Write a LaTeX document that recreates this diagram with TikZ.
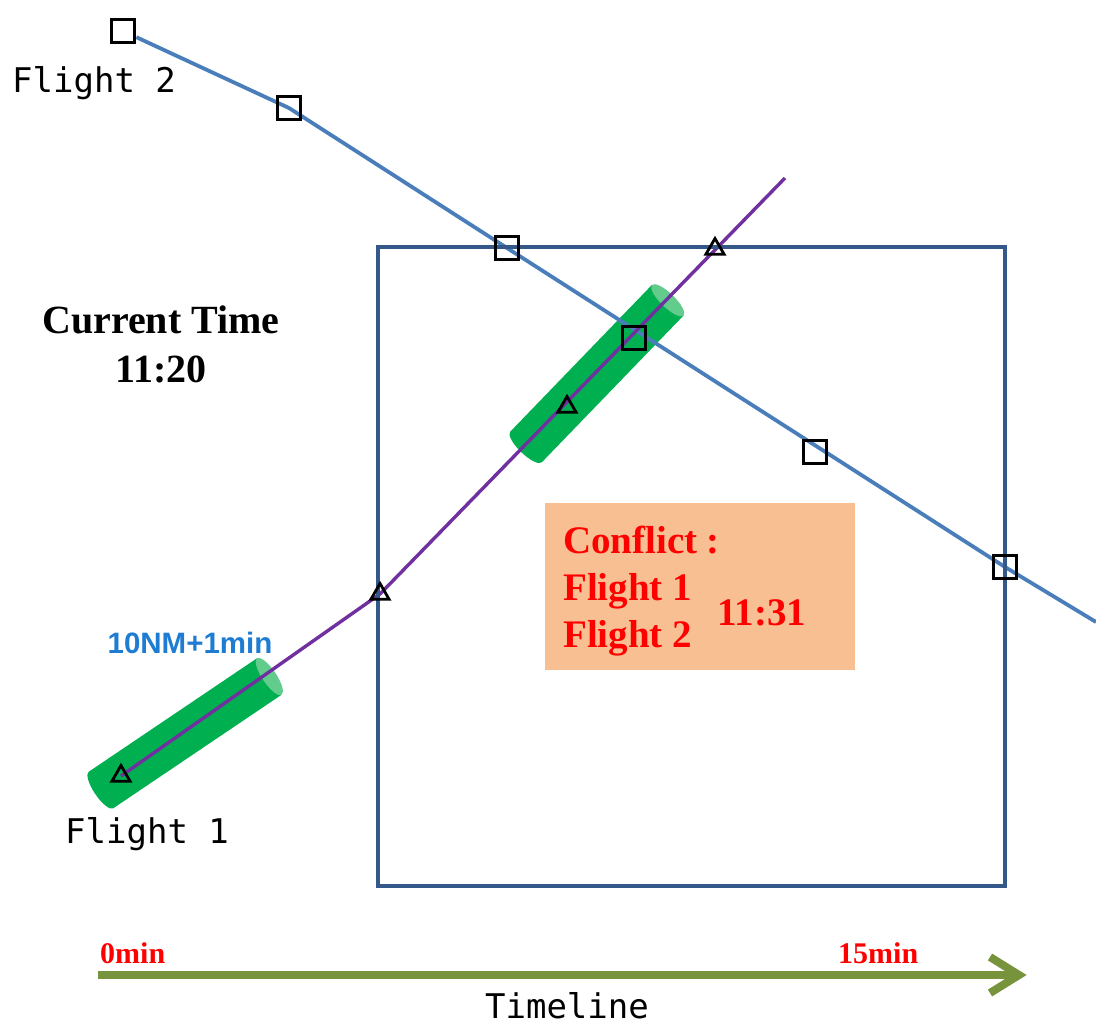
\documentclass[tikz,border=0pt]{standalone}
\usepackage{fontspec}
\setmainfont{Liberation Serif}
\newfontfamily\labelmono{DejaVu Sans Mono}
\newfontfamily\labelsans{Liberation Sans}
\usetikzlibrary{shapes.geometric}
\pgfdeclarelayer{background}
\pgfsetlayers{background,main}

\definecolor{routeblue}{RGB}{74,126,187}
\definecolor{routepurple}{RGB}{112,48,160}
\definecolor{zoneblue}{RGB}{52,88,138}
\definecolor{tubegreen}{RGB}{0,176,80}
\definecolor{tubecap}{RGB}{98,204,140}
\definecolor{alertfill}{RGB}{248,192,146}
\definecolor{alertred}{RGB}{255,0,0}
\definecolor{labelblue}{RGB}{30,125,210}
\definecolor{timelinegreen}{RGB}{119,147,60}

\tikzset{
  waypoint/.style={draw=black, line width=3.8pt, rectangle, minimum size=23pt, inner sep=0pt},
  fixmark/.style={draw=black, line width=2.8pt, regular polygon, regular polygon sides=3,
                  minimum size=21pt, inner sep=0pt},
  route2/.style={draw=routeblue, line width=3.8pt},
  route1/.style={draw=routepurple, line width=3.4pt},
  flightlabel/.style={font=\labelmono\fontsize{34}{40}\selectfont, text=black, inner sep=0pt},
  clocklabel/.style={font=\bfseries\fontsize{40}{49}\selectfont, align=center, inner sep=0pt},
  alerttext/.style={font=\bfseries\fontsize{39}{47}\selectfont, text=alertred, inner sep=0pt},
  ticklabel/.style={font=\bfseries\fontsize{30}{34}\selectfont, text=alertred, inner sep=0pt},
  bufferlabel/.style={font=\labelsans\bfseries\fontsize{29.5}{32}\selectfont, text=labelblue, inner sep=0pt},
}

% protected-airspace tube: start point, angle, length (radius 22)
\newcommand\drawtube[4]{%
  \begin{scope}[shift={(#1,#2)}, rotate=#3]
    \fill[tubegreen] (0,-22) -- (#4,-22) -- (#4,22) -- (0,22)
      arc[start angle=90, end angle=270, x radius=7, y radius=22] -- cycle;
    \fill[tubecap] (#4,0) ellipse[x radius=7, y radius=22];
  \end{scope}}

\begin{document}
\begin{tikzpicture}[x=1pt, y=-1pt]
\useasboundingbox (0,0) rectangle (1096,1026);

% look-ahead window
\node[draw=zoneblue, line width=3.4pt, rectangle, minimum width=627pt, minimum height=639pt,
      inner sep=0pt] (window) at (691.5,566.5) {};

% flight 2 waypoints
\node[waypoint] (w1) at (123,31) {};
\node[waypoint] (w2) at (289,108) {};
\node[waypoint] (w3) at (507,248) {};
\node[waypoint] (w4) at (634,338) {};
\node[waypoint] (w5) at (815,452) {};
\node[waypoint] (w6) at (1005,567) {};
\coordinate (w7) at (1096,622);

% flight 1 fixes
\node[fixmark] (t1) at (121,776) {};
\node[fixmark] (t2) at (380,594) {};
\node[fixmark] (t3) at (567,407) {};
\node[fixmark] (t4) at (715,249) {};
\coordinate (t5) at (785,178);

\begin{pgfonlayer}{background}
  \drawtube{101}{790}{34}{203}
  \drawtube{526}{447}{46}{204}
  \draw[route2] (w1) -- (w2.center) -- (w3.center) -- (w6.center) -- (w7);
  \draw[route1] (t1.center) -- (t2.center) -- (t5);
\end{pgfonlayer}

% labels
\node[flightlabel, anchor=base west] (f2) at (12,92) {Flight 2};
\node[flightlabel, anchor=base west] (f1) at (65,843) {Flight 1};
\node[bufferlabel] (buf) at (190,643) {10NM+1min};
\node[clocklabel, anchor=base] (now) at (161,382) {Current Time\\11:20};

% conflict notice
\node[fill=alertfill, rectangle, minimum width=310pt, minimum height=167pt, inner sep=0pt]
  (alert) at (700,586.5) {};
\node[alerttext, anchor=base west, align=left] (pair) at (563,647)
  {Conflict\hspace{9pt}:\\Flight 1\\Flight 2};
\node[alerttext, anchor=base west] (when) at (717,625) {11:31};

% timeline
\coordinate (tl0) at (98,975);
\coordinate (tl1) at (1012,975);
\coordinate (tip) at (1019,975);
\draw[timelinegreen, line width=8pt] (tl0) -- (tl1);
\draw[timelinegreen, line width=8pt, line join=miter] (990,957) -- (tip) -- (990,993);
\node[ticklabel, anchor=base west] (start) at (100,963) {0min};
\node[ticklabel, anchor=base west] (end) at (838,963) {15min};
\node[flightlabel, anchor=base] (tl) at (567,1018) {Timeline};
\end{tikzpicture}
\end{document}
